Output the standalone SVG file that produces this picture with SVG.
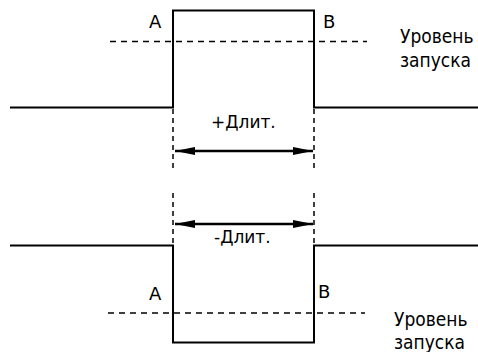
<svg xmlns="http://www.w3.org/2000/svg" width="478" height="352" viewBox="0 0 478 352">
<defs>
<style>
.w{fill:none;stroke:#000;stroke-width:2}
.d{fill:none;stroke:#000;stroke-width:1.5;stroke-dasharray:6,5}
.v{fill:none;stroke:#000;stroke-width:1.5;stroke-dasharray:5,4}
.a{fill:none;stroke:#000;stroke-width:2.5}
text{font-family:"DejaVu Sans",Verdana,sans-serif;font-size:17px;fill:#000}
.p{font-size:18px}
.r{font-size:19px}
</style>
<marker id="ah" viewBox="0 0 20 8" refX="20" refY="4" markerWidth="20" markerHeight="8" markerUnits="userSpaceOnUse" orient="auto-start-reverse">
<path d="M0,0 L20,4 L0,8 Z" fill="#000"/>
</marker>
</defs>
<rect width="478" height="352" fill="#fff"/>
<g id="top-pulse">
<path class="w" d="M10,107.5 H173 V10.5 H314 V107.5 H478"/>
</g>
<g id="bottom-pulse">
<path class="w" d="M10,245.5 H173 V342.5 H314 V245.5 H478"/>
</g>
<g id="connectors">
<line class="d" x1="110" y1="41.5" x2="367" y2="41.5"/>
<line class="d" x1="108" y1="313" x2="365" y2="313"/>
<line class="v" x1="173" y1="109" x2="173" y2="168"/>
<line class="v" x1="314" y1="109" x2="314" y2="168"/>
<line class="v" x1="173" y1="193" x2="173" y2="244"/>
<line class="v" x1="314" y1="193" x2="314" y2="244"/>
<line class="a" x1="175" y1="151" x2="313" y2="151" marker-start="url(#ah)" marker-end="url(#ah)"/>
<line class="a" x1="175" y1="224" x2="313" y2="224" marker-start="url(#ah)" marker-end="url(#ah)"/>
</g>
<g id="labels">
<text class="p" x="149" y="28">A</text>
<text class="p" x="323" y="28">B</text>
<text class="r" transform="translate(400,43) scale(0.9,1)">Уровень</text>
<text class="r" transform="translate(400,67) scale(0.9,1)">запуска</text>
<text x="211" y="128">+Длит.</text>
<text x="214" y="243">-Длит.</text>
<text class="p" x="149" y="300">A</text>
<text class="p" x="318" y="298">B</text>
<text class="r" transform="translate(394,326) scale(0.9,1)">Уровень</text>
<text class="r" transform="translate(394,349) scale(0.9,1)">запуска</text>
</g>
</svg>
